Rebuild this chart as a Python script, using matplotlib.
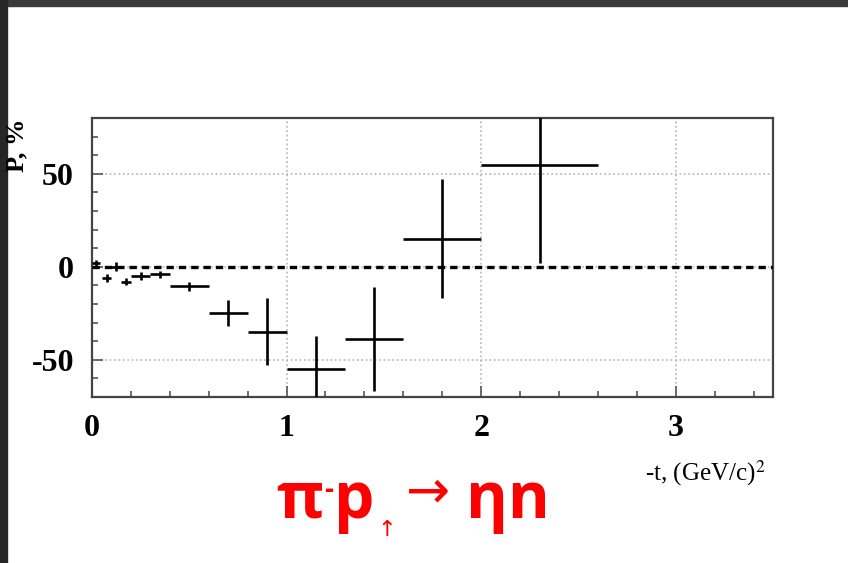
#!/usr/bin/env python3

import matplotlib
matplotlib.use("Agg")
import matplotlib.pyplot as plt
import matplotlib.ticker as plticker
from matplotlib.patches import Rectangle

# polarization P (%) vs -t
t_center = [0.02, 0.075, 0.125, 0.175, 0.25, 0.35, 0.5, 0.7, 0.9, 1.15, 1.45, 1.8, 2.3]
t_halfwidth = [0.02, 0.025, 0.025, 0.025, 0.05, 0.05, 0.1, 0.1, 0.1, 0.15, 0.15, 0.2, 0.3]
pol = [2, -6, 0, -8, -5, -4, -10.5, -25, -35, -55, -39, 15, 55]
pol_err = [1.5, 2, 2.5, 2, 2, 2, 2.5, 7, 18, 18, 28, 32, 53]

x_ticks = [0, 1, 2, 3]
y_ticks = [-50, 0, 50]

W, H = 848, 563
fig = plt.figure(figsize=(W / 100, H / 100), dpi=100)
fig.patch.set_facecolor("white")

# dark frame of the slide on top and left
fig.patches.append(Rectangle((0, 1 - 6 / H), 1, 6 / H, transform=fig.transFigure,
                             color="#3a3a3a", zorder=0))
fig.patches.append(Rectangle((0, 0), 7 / W, 1, transform=fig.transFigure,
                             color="#262626", zorder=0))

ax = fig.add_axes([92 / W, 1 - 397 / H, (773 - 92) / W, (397 - 118) / H])
ax.set_xlim(0, 3.5)
ax.set_ylim(-70, 80)

ax.grid(True, which="major", color="#b5b5b5", linestyle=":", linewidth=1.2)
ax.axhline(0, color="black", linewidth=2.4, linestyle=(0, (2.2, 1.5)), zorder=3)

ax.errorbar(t_center, pol, xerr=t_halfwidth, yerr=pol_err, fmt="none",
            ecolor="black", elinewidth=1.9, capsize=0, zorder=4)

for s in ax.spines.values():
    s.set_color("#444444")
    s.set_linewidth(1.6)

ax.set_xticks(x_ticks)
ax.set_yticks(y_ticks)
ax.xaxis.set_minor_locator(plticker.MultipleLocator(0.2))
ax.yaxis.set_minor_locator(plticker.MultipleLocator(10))
ax.tick_params(which="both", direction="in", top=False, right=False,
               color="#555555", width=1.2)
ax.tick_params(which="major", length=8)
ax.tick_params(which="minor", length=4)
ax.tick_params(axis="x", which="major", pad=12)
ax.tick_params(axis="y", which="major", pad=13)

tick_font = dict(family="Liberation Serif", weight="bold", size=23)
ax.set_xticklabels([str(v) for v in x_ticks], **tick_font)
ax.set_yticklabels([str(v) for v in y_ticks], **tick_font)

plt.rcParams["mathtext.fontset"] = "stix"
fig.text(765 / W, 1 - 488 / H, r"-t, (GeV/c)$^{2}$", ha="right", va="bottom",
         family="Liberation Serif", size=18)
fig.text(17 / W, 1 - 119 / H, "P, %", rotation=90, ha="center", va="top",
         family="Liberation Serif", weight="bold", size=19)

# red reaction label
red = dict(color="#ff0000", family="Open Sans", weight="bold")
base = 1 - 518 / H
fig.text(276 / W, base, "\u03c0", ha="left", va="baseline", size=46, **red)
fig.text(324 / W, base + 20 / H, "-", ha="left", va="baseline", size=20, **red)
fig.text(334 / W, base, "p", ha="left", va="baseline", size=46, **red)
fig.text(377 / W, 1 - 536 / H, "\u2191", ha="left", va="baseline", size=16,
         color="#ff0000", family="DejaVu Sans")
fig.text(406 / W, 1 - 507 / H, "\u2192", ha="left", va="baseline", size=38,
         color="#ff0000", family="DejaVu Sans")
fig.text(466 / W, base, "\u03b7n", ha="left", va="baseline", size=46, **red)

plt.savefig("out.png", dpi=100)
